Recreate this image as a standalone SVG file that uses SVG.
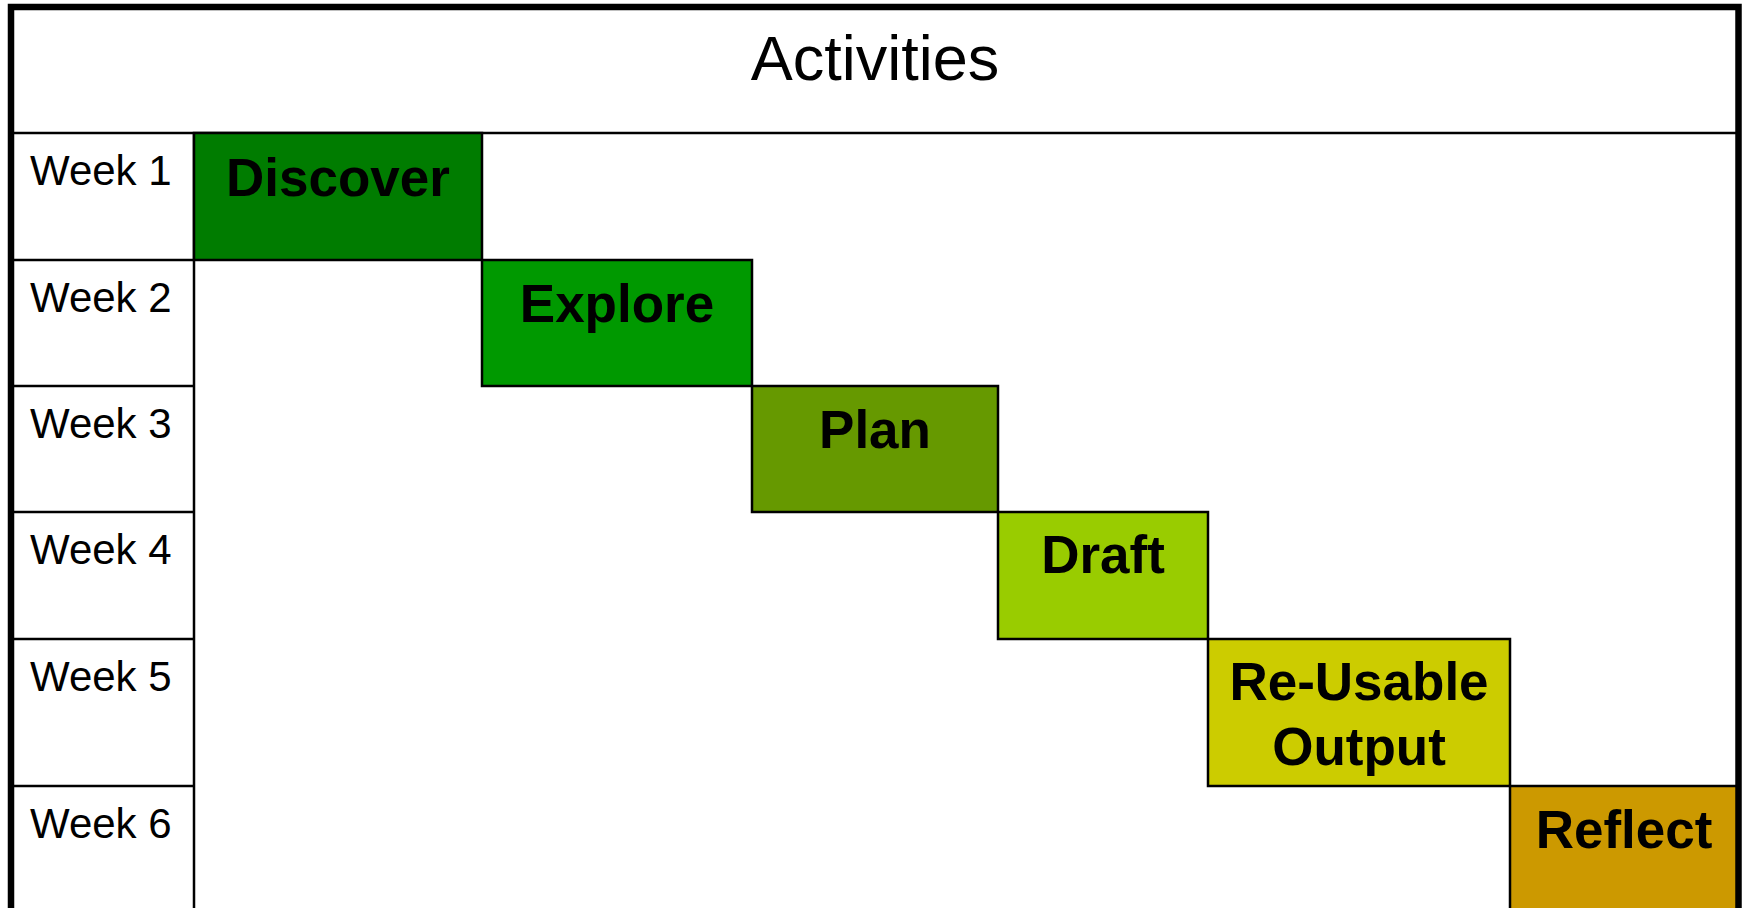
<svg xmlns="http://www.w3.org/2000/svg" width="1743" height="908" viewBox="0 0 1743 908">
<style>
.grid{stroke:#000;stroke-width:2.5;fill:none}
.box{stroke:#000;stroke-width:2.5}
.wk{font-family:"Liberation Sans",Arial,sans-serif;font-size:42px;fill:#000}
.lbl{font-family:"Liberation Sans",Arial,sans-serif;font-size:53px;font-weight:bold;fill:#000;text-anchor:middle}
.title{font-family:"Liberation Sans",Arial,sans-serif;font-size:63px;fill:#000;text-anchor:middle}
</style>
<rect x="0" y="0" width="1743" height="908" fill="#fff"/>
<g id="grid">
<line class="grid" x1="11" y1="133" x2="1738" y2="133"/>
<line class="grid" x1="194" y1="133" x2="194" y2="908"/>
<line class="grid" x1="11" y1="260" x2="194" y2="260"/>
<line class="grid" x1="11" y1="386" x2="194" y2="386"/>
<line class="grid" x1="11" y1="512" x2="194" y2="512"/>
<line class="grid" x1="11" y1="639" x2="194" y2="639"/>
<line class="grid" x1="11" y1="786" x2="194" y2="786"/>
</g>
<g id="title"><text class="title" x="875" y="80">Activities</text></g>
<g id="weeks">
<text class="wk" x="30" y="185">Week 1</text>
<text class="wk" x="30" y="312">Week 2</text>
<text class="wk" x="30" y="438">Week 3</text>
<text class="wk" x="30" y="564">Week 4</text>
<text class="wk" x="30" y="691">Week 5</text>
<text class="wk" x="30" y="838">Week 6</text>
</g>
<g id="discover"><rect class="box" x="194" y="133" width="288" height="127" fill="#007C00"/><text class="lbl" x="338" y="196">Discover</text></g>
<g id="explore"><rect class="box" x="482" y="260" width="270" height="126" fill="#009900"/><text class="lbl" x="617" y="322">Explore</text></g>
<g id="plan"><rect class="box" x="752" y="386" width="246" height="126" fill="#669900"/><text class="lbl" x="875" y="448">Plan</text></g>
<g id="draft"><rect class="box" x="998" y="512" width="210" height="127" fill="#99CC00"/><text class="lbl" x="1103" y="573">Draft</text></g>
<g id="reusable"><rect class="box" x="1208" y="639" width="302" height="147" fill="#CCCC00"/><text class="lbl" x="1359" y="700">Re-Usable</text><text class="lbl" x="1359" y="765">Output</text></g>
<g id="reflect"><rect class="box" x="1510" y="786" width="228" height="130" fill="#CC9900"/><text class="lbl" x="1624" y="848">Reflect</text></g>
<rect x="11" y="7" width="1727.5" height="910" fill="none" stroke="#000" stroke-width="6.5"/>
</svg>
